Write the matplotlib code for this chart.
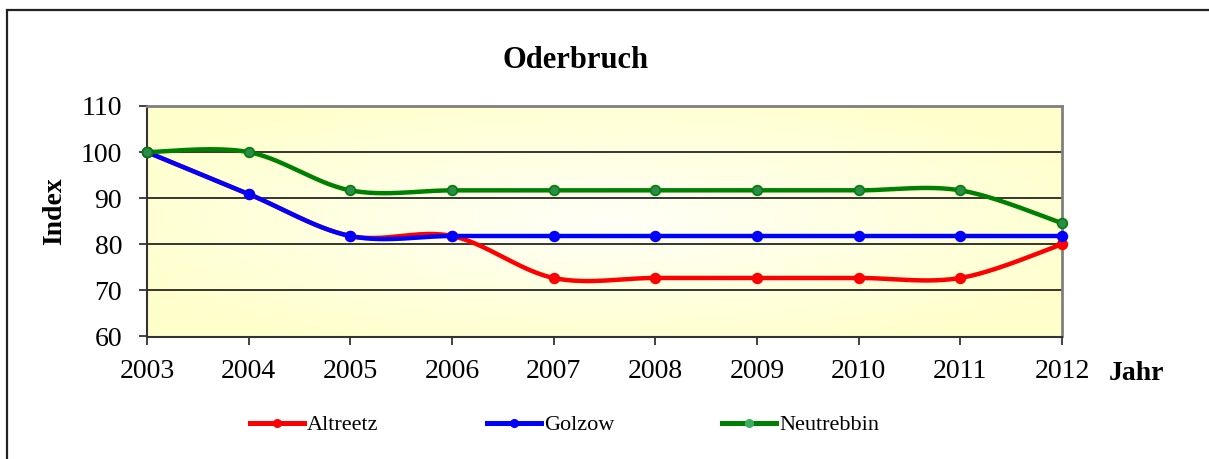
import matplotlib.pyplot as plt
import numpy as np
from matplotlib.patches import Rectangle
from matplotlib.lines import Line2D

plt.rcParams['font.family'] = ['Liberation Serif', 'DejaVu Serif']

# data
jahre = [2003, 2004, 2005, 2006, 2007, 2008, 2009, 2010, 2011, 2012]
altreetz = [100.0, 90.9, 81.8, 81.8, 72.7, 72.7, 72.7, 72.7, 72.7, 80.0]
golzow = [100.0, 90.9, 81.8, 81.8, 81.8, 81.8, 81.8, 81.8, 81.8, 81.8]
neutrebbin = [100.0, 100.0, 91.7, 91.7, 91.7, 91.7, 91.7, 91.7, 91.7, 84.6]


def smooth(x, y, n=30):
    # Catmull-Rom curve through the points (like excel "smoothed line")
    x = np.asarray(x, float)
    y = np.asarray(y, float)
    px = np.concatenate([[x[0]], x, [x[-1]]])
    py = np.concatenate([[y[0]], y, [y[-1]]])
    xs, ys = [], []
    t = np.linspace(0, 1, n)
    for i in range(1, len(px) - 2):
        for p, out in ((px, xs), (py, ys)):
            p0, p1, p2, p3 = p[i - 1], p[i], p[i + 1], p[i + 2]
            c1 = p1 + (p2 - p0) / 6
            c2 = p2 - (p3 - p1) / 6
            b = ((1 - t) ** 3 * p1 + 3 * (1 - t) ** 2 * t * c1
                 + 3 * (1 - t) * t ** 2 * c2 + t ** 3 * p2)
            out.extend(b)
    return np.array(xs), np.array(ys)


fig = plt.figure(figsize=(12.09, 4.59), dpi=100)
ax = fig.add_axes([147 / 1209, 1 - 336.5 / 459, (1062 - 147) / 1209, (336.5 - 106) / 459])

# outer frame
fig.patches.append(Rectangle((7 / 1209, -0.1), 1.1, 1 - 10 / 459 + 0.1, transform=fig.transFigure,
                             fill=False, edgecolor='#222222', lw=1.6))

# background gradient, yellow at edges, whiter in the middle
gx, gy = np.meshgrid(np.linspace(-1, 1, 200), np.linspace(-1, 1, 80))
r = np.clip(np.sqrt(gx ** 2 + gy ** 2) / 1.2, 0, 1)
c0 = np.array([1.0, 1.0, 0.97])
c1 = np.array([1.0, 1.0, 0.80])
img = c0[None, None, :] * (1 - r[..., None]) + c1[None, None, :] * r[..., None]
ax.imshow(img, extent=[2003, 2012, 60, 110], aspect='auto', zorder=0)

ax.set_xlim(2003, 2012)
ax.set_ylim(60, 110)
ax.set_yticks([60, 70, 80, 90, 100, 110])
ax.set_xticks(jahre)
for yv in [70, 80, 90, 100]:
    ax.axhline(yv, color='black', lw=1.1, zorder=1)

series = [(altreetz, 'Altreetz', '#ff0000', '#ff0000', '#ff0000'),
          (golzow, 'Golzow', '#0000ff', '#0000ff', '#0000ff'),
          (neutrebbin, 'Neutrebbin', '#008000', '#2e8b50', '#3cae64')]
for vals, name, col, mfc, lmfc in series:
    sx, sy = smooth(jahre, vals)
    ax.plot(sx, sy, color=col, lw=3.2, solid_capstyle='round', zorder=3)
    ax.plot(jahre, vals, 'o', color=col, mfc=mfc, mec=col, ms=7, mew=1.2, zorder=4, clip_on=False)

for s in ['top', 'right']:
    ax.spines[s].set_color('#808080')
    ax.spines[s].set_linewidth(2)
for s in ['left', 'bottom']:
    ax.spines[s].set_color('#333333')
    ax.spines[s].set_linewidth(1.5)

ax.tick_params(axis='both', direction='out', length=6, width=1.2, colors='#222222', labelsize=20,
               labelcolor='black')
ax.tick_params(axis='x', pad=10)
ax.tick_params(axis='y', pad=12)

fig.text(576 / 1209, 1 - 60 / 459, 'Oderbruch', fontsize=22, fontweight='bold', ha='center', va='center')
fig.text(55 / 1209, 1 - 211 / 459, 'Index', fontsize=20, fontweight='bold', rotation=90,
         ha='center', va='center')
fig.text(1136 / 1209, 1 - 373 / 459, 'Jahr', fontsize=20, fontweight='bold', ha='center', va='center')

# legend entries, placed one by one
for (vals, name, col, mfc, lmfc), x0 in zip(series, [250, 487, 722]):
    h = Line2D([], [], color=col, lw=3.6, marker='o', ms=5.5, mfc=lmfc, mec=lmfc)
    leg = fig.legend([h], [name], loc='center left', bbox_to_anchor=(x0 / 1209, 1 - 425 / 459),
                     frameon=False, fontsize=16, handlelength=2.45, handletextpad=0.12,
                     borderpad=0, borderaxespad=0)

plt.savefig('out.png', dpi=100)
